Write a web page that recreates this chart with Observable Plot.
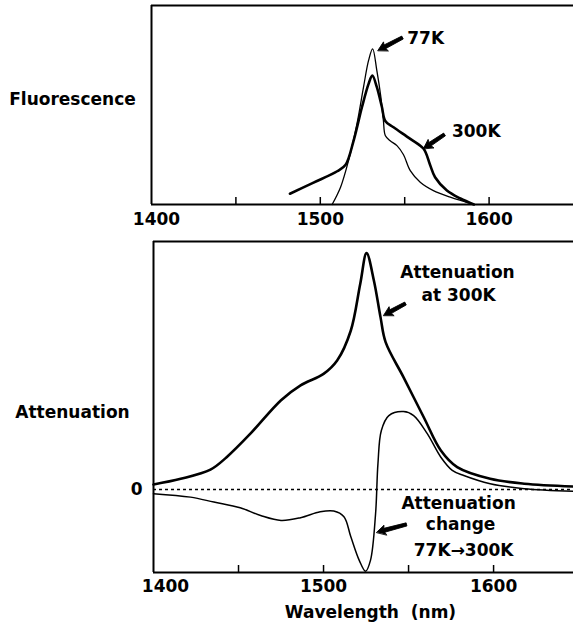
<!DOCTYPE html>
<html>
<head>
<meta charset="utf-8">
<script src="https://cdn.jsdelivr.net/npm/d3@7"></script>
<script src="https://cdn.jsdelivr.net/npm/@observablehq/plot@0.6"></script>
<style>
  html, body { margin: 0; padding: 0; background: white; }
  #chart { width: 573px; height: 627px; position: relative; background: white; }
  #chart svg { display: block; }
</style>
</head>
<body>
<div id="chart"></div>
<script>
// ---------- Data ----------
// Top panel: fluorescence (relative units)
const fl77Wl  = [1507, 1512, 1516.7, 1521.7, 1525.6, 1528.6, 1531, 1533.5, 1535.9, 1537.4, 1538.5, 1541.4, 1545.4, 1549.3, 1553.3, 1559.2, 1567, 1577, 1591];
const fl77Val = [0, 0.087, 0.22, 0.405, 0.59, 0.724, 0.782, 0.673, 0.539, 0.42, 0.347, 0.32, 0.296, 0.25, 0.17, 0.112, 0.07, 0.037, 0];

const fl300Wl  = [1482, 1496, 1510, 1515, 1519.7, 1524.7, 1528.6, 1530.8, 1533.5, 1536.5, 1538.5, 1543.4, 1553.3, 1561.2, 1565, 1568, 1575, 1583, 1591];
const fl300Val = [0.054, 0.11, 0.167, 0.2, 0.32, 0.49, 0.606, 0.648, 0.59, 0.49, 0.42, 0.388, 0.33, 0.28, 0.2, 0.137, 0.07, 0.03, 0];

// Bottom panel: attenuation (relative units, 0 = dashed line)
const att300Wl  = [1400, 1416, 1433.5, 1443, 1457, 1475, 1486.5, 1500, 1508, 1516, 1521.6, 1525.3, 1529.6, 1533.5, 1536.5, 1547, 1559, 1569, 1578.6, 1598, 1618, 1647];
const att300Val = [0.02, 0.043, 0.08, 0.13, 0.225, 0.36, 0.42, 0.466, 0.52, 0.64, 0.83, 0.953, 0.843, 0.695, 0.594, 0.453, 0.29, 0.157, 0.09, 0.043, 0.023, 0.012];

const dAttWl  = [1400, 1421.8, 1435.5, 1451, 1463, 1475, 1486.5, 1498, 1506, 1512, 1516, 1521, 1524.7, 1527.6, 1530.6, 1532, 1534, 1538.4, 1547, 1553, 1561, 1569, 1575.7, 1582.5, 1598, 1618, 1647];
const dAttVal = [-0.017, -0.031, -0.051, -0.074, -0.105, -0.125, -0.114, -0.09, -0.087, -0.11, -0.19, -0.286, -0.33, -0.286, -0.098, 0.104, 0.238, 0.298, 0.314, 0.298, 0.225, 0.13, 0.077, 0.056, 0.023, 0.003, -0.007];

// Axis ticks / labels
const tickWl = [1450, 1500, 1550, 1600];
const labelWl = [1500, 1600];
const firstLabel = [1400];

// Annotations (data coordinates)
const topLabels = [
  {x: 1551.5, y: 0.834, text: "77K"},
  {x: 1578, y: 0.367, text: "300K"}
];
const topArrows = [
  {x1: 1548.7, y1: 0.839, x2: 1534.1, y2: 0.774},
  {x1: 1573.6, y1: 0.352, x2: 1561.1, y2: 0.281}
];
const botLabels = [
  {x: 1578.8, y: 0.875, text: "Attenuation"},
  {x: 1579.4, y: 0.782, text: "at 300K"},
  {x: 1579.4, y: -0.056, text: "Attenuation"},
  {x: 1580.6, y: -0.141, text: "change"},
  {x: 1582.4, y: -0.246, text: "77K→300K"}
];
const botArrows = [
  {x1: 1548.2, y1: 0.75, x2: 1535.3, y2: 0.702},
  {x1: 1548.8, y1: -0.141, x2: 1531.2, y2: -0.173}
];

const fl77 = fl77Wl.map((w, i) => ({w, v: fl77Val[i]}));
const fl300 = fl300Wl.map((w, i) => ({w, v: fl300Val[i]}));
const att300 = att300Wl.map((w, i) => ({w, v: att300Val[i]}));
const dAtt = dAttWl.map((w, i) => ({w, v: dAttVal[i]}));

const font = {fontFamily: "DejaVu Sans, sans-serif", fontWeight: "bold", fontSize: "17px", background: "white", color: "black"};

// Filled arrow shape for Plot.vector (drawn pointing up, tip at -l)
const filledArrow = {
  draw(context, l) {
    const hw = 5, hl = 9, sw = 2;
    context.moveTo(0, -l);
    context.lineTo(hw, -l + hl);
    context.lineTo(sw, -l + hl - 1);
    context.lineTo(sw * 0.8, 0);
    context.lineTo(-sw * 0.8, 0);
    context.lineTo(-sw, -l + hl - 1);
    context.lineTo(-hw, -l + hl);
    context.closePath();
  }
};

// panel geometry helpers (pixel per data unit, derived from plot settings)
function arrowGeom(arrows, kx, ky) {
  return arrows.map(d => {
    const dx = (d.x2 - d.x1) * kx;
    const dy = -(d.y2 - d.y1) * ky;
    return {...d, len: Math.hypot(dx, dy), rot: Math.atan2(dx, -dy) * 180 / Math.PI};
  });
}

function panel({height, marginLeft, marginTop, marginBottom, xDomain, yDomain}) {
  const width = 573;
  const kx = (width - marginLeft) / (xDomain[1] - xDomain[0]);
  const ky = (height - marginTop - marginBottom) / (yDomain[1] - yDomain[0]);
  return {width, height, marginLeft, marginRight: 0, marginTop, marginBottom, kx, ky};
}

// ---------- Top panel ----------
const tp = panel({height: 230, marginLeft: 151, marginTop: 5, marginBottom: 26, xDomain: [1400, 1650], yDomain: [0, 1]});
const topPlot = Plot.plot({
  width: tp.width, height: tp.height,
  marginLeft: tp.marginLeft, marginRight: 0, marginTop: tp.marginTop, marginBottom: tp.marginBottom,
  style: font,
  x: {domain: [1400, 1650], axis: null},
  y: {domain: [0, 1], axis: null},
  length: {type: "identity"},
  marks: [
    Plot.ruleX([1400], {stroke: "black", strokeWidth: 2}),
    Plot.ruleY([0, 1], {stroke: "black", strokeWidth: 2}),
    Plot.ruleX(tickWl, {stroke: "black", strokeWidth: 1.5, insetTop: 192}),
    Plot.text(labelWl, {x: d => d, text: d => String(d), frameAnchor: "bottom", dy: 15, lineAnchor: "middle"}),
    Plot.text(firstLabel, {x: d => d, text: d => String(d), frameAnchor: "bottom", dy: 15, dx: 5, lineAnchor: "middle"}),
    Plot.text(["Fluorescence"], {y: [0.528], frameAnchor: "left", dx: -79, textAnchor: "middle", lineAnchor: "middle"}),
    Plot.line(fl300, {x: "w", y: "v", stroke: "black", strokeWidth: 2.6, curve: "catmull-rom"}),
    Plot.line(fl77, {x: "w", y: "v", stroke: "black", strokeWidth: 1.3, curve: "catmull-rom"}),
    Plot.vector(arrowGeom(topArrows, tp.kx, tp.ky), {x: "x2", y: "y2", length: "len", rotate: "rot", anchor: "end", shape: filledArrow, fill: "black", stroke: "black", strokeWidth: 0.8}),
    Plot.text(topLabels, {x: "x", y: "y", text: "text", textAnchor: "start", lineAnchor: "middle"})
  ]
});

// ---------- Bottom panel ----------
const bp = panel({height: 397, marginLeft: 153, marginTop: 11, marginBottom: 55, xDomain: [1400, 1647], yDomain: [-0.335, 1]});
const botPlot = Plot.plot({
  width: bp.width, height: bp.height,
  marginLeft: bp.marginLeft, marginRight: 0, marginTop: bp.marginTop, marginBottom: bp.marginBottom,
  style: font,
  x: {domain: [1400, 1647], axis: null},
  y: {domain: [-0.335, 1], axis: null},
  length: {type: "identity"},
  marks: [
    Plot.ruleX([1400], {stroke: "black", strokeWidth: 2}),
    Plot.ruleY([-0.335, 1], {stroke: "black", strokeWidth: 2}),
    Plot.ruleY([0], {stroke: "black", strokeWidth: 1.5, strokeDasharray: "3,3"}),
    Plot.ruleX(tickWl, {stroke: "black", strokeWidth: 1.5, insetTop: 324}),
    Plot.text(labelWl, {x: d => d, text: d => String(d), frameAnchor: "bottom", dy: 14, lineAnchor: "middle"}),
    Plot.text(firstLabel, {x: d => d, text: d => String(d), frameAnchor: "bottom", dy: 14, dx: 12, lineAnchor: "middle"}),
    Plot.text(["Wavelength \u00a0(nm)"], {frameAnchor: "bottom", dy: 40, dx: 7, lineAnchor: "middle"}),
    Plot.text(["Attenuation"], {y: [0.31], frameAnchor: "left", dx: -81, textAnchor: "middle", lineAnchor: "middle"}),
    Plot.text(["0"], {y: [0], frameAnchor: "left", dx: -11, textAnchor: "end", lineAnchor: "middle"}),
    Plot.line(att300, {x: "w", y: "v", stroke: "black", strokeWidth: 2.6, curve: "catmull-rom"}),
    Plot.line(dAtt, {x: "w", y: "v", stroke: "black", strokeWidth: 1.5, curve: "catmull-rom"}),
    Plot.vector(arrowGeom(botArrows, bp.kx, bp.ky), {x: "x2", y: "y2", length: "len", rotate: "rot", anchor: "end", shape: filledArrow, fill: "black", stroke: "black", strokeWidth: 0.8}),
    Plot.text(botLabels, {x: "x", y: "y", text: "text", textAnchor: "middle", lineAnchor: "middle"})
  ]
});

const chart = document.getElementById("chart");
chart.appendChild(topPlot);
chart.appendChild(botPlot);
</script>
</body>
</html>
